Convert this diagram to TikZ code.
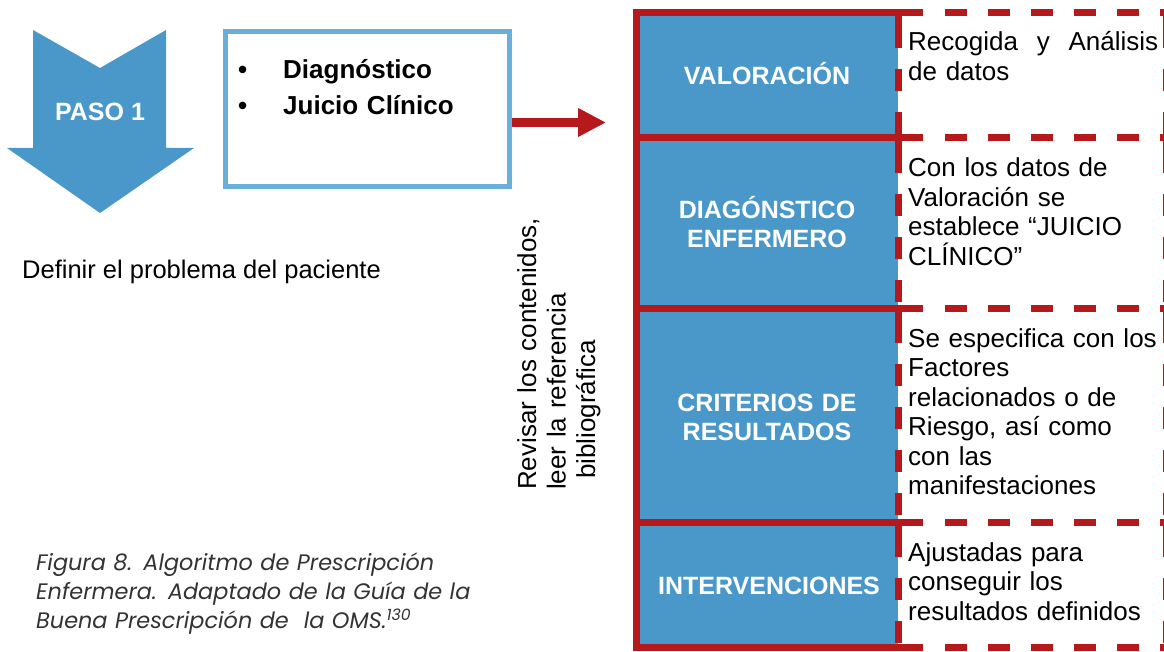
\documentclass[tikz,border=0pt]{standalone}
\usepackage{fontspec}
\setmainfont{Liberation Sans}
\newfontfamily\capfont{Poppins}
\usetikzlibrary{arrows.meta}
\definecolor{stepblue}{HTML}{4A98CA}
\definecolor{boxblue}{HTML}{6AAEDB}
\definecolor{tred}{HTML}{B5191C}
\definecolor{captxt}{HTML}{333333}
\begin{document}
\begin{tikzpicture}[x=1pt,y=-1pt,
  tline/.style={draw=tred,line width=7pt},
  rdash/.style={draw=tred,line width=7pt,dash pattern=on 22pt off 21pt},
  cell/.style={fill=stepblue,draw=none,minimum width=262pt,inner sep=0pt,outer sep=0pt},
  celltxt/.style={font=\fontsize{25}{29}\selectfont\bfseries,text=white,anchor=base,text width=262pt,align=center,inner sep=0pt},
  desc/.style={font=\fontsize{26}{29.5}\selectfont,anchor=base west,text width=258pt,align=left,inner sep=0pt},
  redarrow/.style={draw=tred,line width=9pt,-{Triangle[length=28pt,width=27pt]}}]
\useasboundingbox (0,0) rectangle (1164,652);
\fill[white] (0,0) rectangle (1164,652);

% PASO 1 arrow
\fill[stepblue] (33,30) -- (100,68) -- (166,30) -- (166,148) -- (194,148) -- (100,213) -- (7,148) -- (33,148) -- cycle;
\node[font=\fontsize{25}{30}\selectfont\bfseries,text=white,anchor=base,inner sep=0pt] (paso) at (100,121) {PASO 1};

% box
\node[draw=boxblue,line width=5pt,minimum width=284pt,minimum height=155pt,inner sep=0pt,outer sep=0pt] (box) at (367,109.5) {};
\node[font=\fontsize{26}{36}\selectfont\bfseries,anchor=base west,text width=260pt,align=left,inner sep=0pt] (items) at (238,79) {\makebox[45pt][l]{•}Diagnóstico\\\makebox[45pt][l]{•}Juicio Clínico};

\node[font=\fontsize{25.5}{30}\selectfont,anchor=base west,inner sep=0pt] (def) at (22,279) {Definir el problema del paciente};

% vertical text
\node[font=\fontsize{26}{29.5}\selectfont,rotate=90,anchor=base west,text width=290pt,align=left,inner sep=0pt] (rev) at (536,490) {Revisar los contenidos,\\leer la referencia\\\hspace*{11pt}bibliográfica};

% caption
\node[font=\capfont\itshape\fontsize{22.4}{29}\selectfont,text=captxt,anchor=base west,text width=500pt,align=left,inner sep=0pt] (cap) at (36,570) {Figura 8. Algoritmo de Prescripción\\Enfermera. Adaptado de la Guía de la\\Buena Prescripción de\ \ la OMS.\textsuperscript{130}};

% table cells
\node[cell,minimum height=125pt] (c1) at (767,75.5) {};
\node[cell,minimum height=170pt] (c2) at (767,223) {};
\node[cell,minimum height=214pt] (c3) at (767,415) {};
\node[cell,minimum height=125pt] (c4) at (767,584.5) {};
\node[celltxt] (l1) at (767,85) {VALORACIÓN};
\node[celltxt] (l2) at (767,219) {DIAGÓNSTICO\\ENFERMERO};
\node[celltxt] (l3) at (767,411) {CRITERIOS DE\\RESULTADOS};
\node[celltxt] (l4) at (769,594) {INTERVENCIONES};

% table lines
\draw[tline] (636,9.5) -- (636,650.5);
\foreach \y in {13,138,308,522,647} {
  \draw[tline] (632.5,\y) -- (923,\y);
  \draw[rdash] (945,\y) -- (1190,\y);
}
\foreach \a/\b in {13/138,138/308,308/522,522/647} {
  \draw[tline] (898,\a) -- (898,\a+35);
  \draw[rdash] (898,\a+56) -- (898,\b);
  \draw[tline] (1166.5,\a) -- (1166.5,\a+35);
  \draw[rdash] (1166.5,\a+56) -- (1166.5,\b);
}

% descriptions
\node[desc] (t1) at (908,51) {\hbox to 250pt{Recogida\hfill y\hfill Análisis}\\de datos};
\node[desc] (t2) at (908,177) {Con los datos de\\Valoración se\\establece “JUICIO\\CLÍNICO”};
\node[desc] (t3) at (908,347) {Se especifica con los\\Factores\\relacionados o de\\Riesgo, así como\\con las\\manifestaciones};
\node[desc] (t4) at (908,561) {Ajustadas para\\conseguir los\\resultados definidos};

% connector
\coordinate (arrowend) at (606,122.5);
\draw[redarrow] ([xshift=3pt]box.east |- arrowend) -- (arrowend);
\end{tikzpicture}
\end{document}
